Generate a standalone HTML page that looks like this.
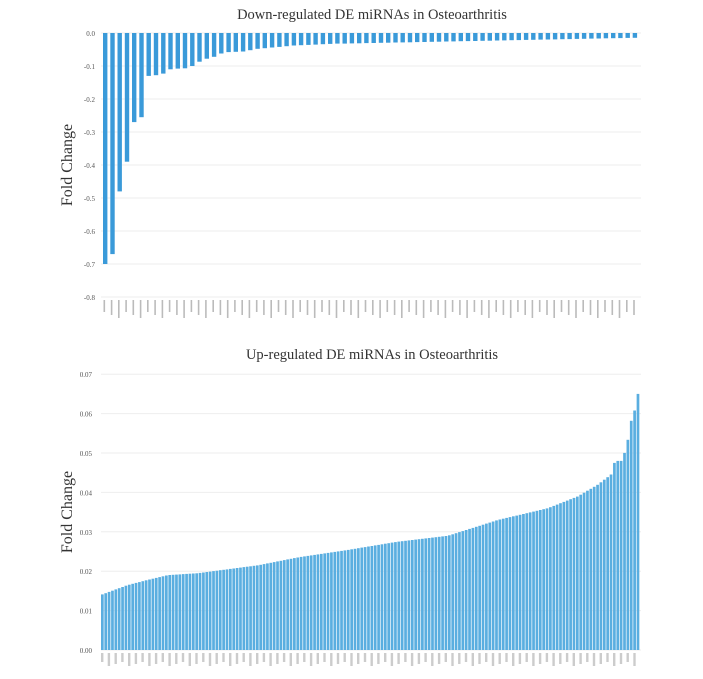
<!DOCTYPE html>
<html><head><style>body{margin:0;background:#fff}svg{display:block}</style></head>
<body>
<svg id="s" width="703" height="679" xmlns="http://www.w3.org/2000/svg" font-family="Liberation Serif, serif">
<text x="372" y="19" font-size="14.5" text-anchor="middle" fill="#333">Down-regulated DE miRNAs in Osteoarthritis</text>
<text x="372" y="359" font-size="14.5" text-anchor="middle" fill="#333">Up-regulated DE miRNAs in Osteoarthritis</text>
<text transform="translate(72,165) rotate(-90)" font-size="16" text-anchor="middle" fill="#333">Fold Change</text>
<text transform="translate(72,512) rotate(-90)" font-size="16" text-anchor="middle" fill="#333">Fold Change</text>
<g id="g"></g>
</svg>
<script>
var g=document.getElementById('g'),h='';
for(var i=0;i<=8;i++){var y=33+i*33;h+='<line x1="101" x2="641" y1="'+y+'" y2="'+y+'" stroke="#eee" stroke-width="1"/>';
h+='<text x="95" y="'+(y+3)+'" font-size="7" text-anchor="end" fill="#555">'+(i==0?'0.0':'-0.'+i)+'</text>';}
var tv=[-0.70,-0.67,-0.48,-0.39,-0.27,-0.255,-0.13,-0.128,-0.123,-0.11,-0.108,-0.107,-0.1,-0.087,-0.078,-0.072,-0.062,-0.058,-0.057,-0.056,-0.052,-0.048,-0.046,-0.044,-0.042,-0.04,-0.038,-0.037,-0.036,-0.035,-0.034,-0.033,-0.032];
var N=74;while(tv.length<N){var k=tv.length;tv.push(-(0.032-(k-33)*(0.018/41)));}
var st=(640-103)/N;
for(var i=0;i<N;i++){var x=103+i*st,v=tv[i];h+='<rect x="'+x.toFixed(1)+'" y="33" width="'+(st*0.6).toFixed(1)+'" height="'+(-v*330).toFixed(1)+'" fill="#3a9ad9"/>';
h+='<rect x="'+(x+0.5).toFixed(1)+'" y="300" width="1.6" height="'+(12+(i%3)*3)+'" fill="#bbb"/>';}
var z=650,p=3940;
for(var i=0;i<=7;i++){var y=z-i*39.4;h+='<line x1="101" x2="641" y1="'+y+'" y2="'+y+'" stroke="#eee" stroke-width="1"/>';
h+='<text x="92" y="'+(y+3)+'" font-size="7" text-anchor="end" fill="#555">0.0'+i+'</text>';}
var cp=[[101,0.0138],[130,0.0165],[150,0.0178],[170,0.019],[200,0.0195],[230,0.0205],[260,0.0215],[300,0.0235],[350,0.0254],[400,0.0275],[450,0.029],[500,0.033],[550,0.036],[580,0.039],[600,0.042],[613,0.0445],[617,0.048],[624,0.048],[629,0.052],[633,0.058],[636,0.06],[640,0.065]];
function f(x){for(var j=1;j<cp.length;j++){if(x<=cp[j][0]){var a=cp[j-1],b=cp[j];return a[1]+(b[1]-a[1])*(x-a[0])/(b[0]-a[0]);}}return 0.065;}
var M=160,s2=(640-101)/M;
for(var i=0;i<M;i++){var x=101+i*s2;var v=f(x+s2);
h+='<rect x="'+x.toFixed(2)+'" y="'+(z-v*p).toFixed(1)+'" width="'+(s2*0.8).toFixed(2)+'" height="'+(v*p).toFixed(1)+'" fill="#5aaee0"/>';}
for(var i=0;i<M;i+=2){var x=101+i*s2;h+='<rect x="'+x.toFixed(1)+'" y="653" width="2.4" height="'+(9+(i%3)*2)+'" fill="#ccc"/>';}
g.innerHTML=h;
</script>
</body></html>
